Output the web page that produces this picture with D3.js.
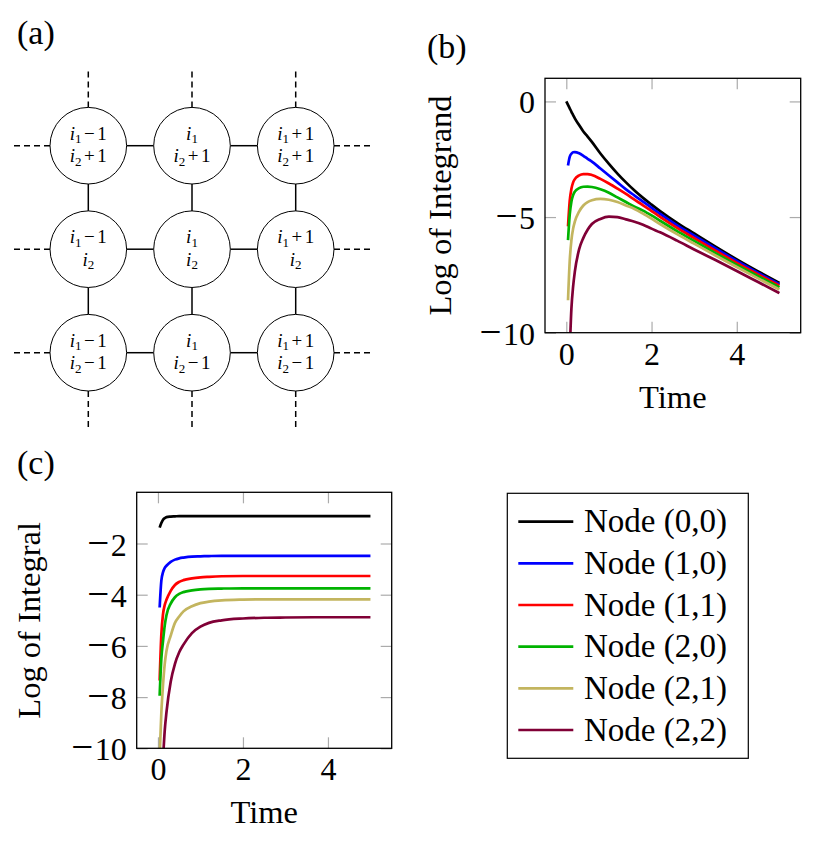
<!DOCTYPE html>
<html><head><meta charset="utf-8">
<script src="https://cdn.jsdelivr.net/npm/d3@7"></script>
<style>
body{margin:0;background:#fff}
svg{display:block}
text{font-family:'Liberation Serif','Times New Roman',serif;fill:#000}
</style>
</head><body>
<svg id="fig" width="830" height="842"></svg>
<script>
// ---------------- data ----------------
const seriesNames = ["Node (0,0)", "Node (1,0)", "Node (1,1)", "Node (2,0)", "Node (2,1)", "Node (2,2)"];
const seriesColors = ["#000000", "#0000ff", "#ff0000", "#00b300", "#c3b55f", "#800036"];

// panel (b): log of integrand
const timeB = [0, 0.04, 0.08, 0.12, 0.16, 0.2, 0.3, 0.4, 0.5, 0.6, 0.8, 1.0, 1.2, 1.4, 1.6, 1.8, 2.0, 2.2, 2.6, 3.0, 3.5, 4.0, 4.5, 5.0];
const integrand00 = [0, -0.15, -0.3, -0.45, -0.59, -0.73, -1.02, -1.3, -1.52, -1.75, -2.25, -2.7, -3.12, -3.5, -3.85, -4.17, -4.46, -4.74, -5.25, -5.71, -6.28, -6.83, -7.35, -7.85];
const integrand10 = [null, -2.77, -2.4, -2.26, -2.2, -2.19, -2.24, -2.35, -2.48, -2.6, -2.9, -3.2, -3.5, -3.8, -4.07, -4.33, -4.6, -4.86, -5.36, -5.8, -6.36, -6.9, -7.42, -7.91];
const integrand11 = [null, -5.4, -4.3, -3.78, -3.5, -3.36, -3.2, -3.14, -3.14, -3.18, -3.35, -3.55, -3.77, -4.0, -4.25, -4.49, -4.74, -4.99, -5.47, -5.91, -6.45, -6.98, -7.48, -7.97];
const integrand20 = [null, -6.0, -4.9, -4.33, -4.05, -3.9, -3.75, -3.69, -3.68, -3.7, -3.8, -3.95, -4.15, -4.35, -4.55, -4.72, -4.93, -5.16, -5.61, -6.03, -6.56, -7.07, -7.56, -8.04];
const integrand21 = [null, -8.6, -6.9, -6.0, -5.5, -5.2, -4.76, -4.5, -4.35, -4.27, -4.21, -4.25, -4.35, -4.5, -4.65, -4.85, -5.07, -5.3, -5.74, -6.15, -6.66, -7.16, -7.65, -8.13];
const integrand22 = [null, null, -10.8, -8.95, -8.0, -7.36, -6.4, -5.9, -5.55, -5.3, -5.08, -4.98, -5.0, -5.1, -5.2, -5.33, -5.5, -5.66, -6.02, -6.4, -6.86, -7.33, -7.81, -8.29];

// panel (c): log of integral
const timeC = [0.04, 0.08, 0.12, 0.16, 0.2, 0.3, 0.4, 0.5, 0.6, 0.8, 1.0, 1.2, 1.5, 2.0, 2.5, 3.0, 4.0, 5.0];
const integral00 = [-1.38, -1.2, -1.07, -1.01, -0.97, -0.95, -0.94, -0.93, -0.93, -0.93, -0.93, -0.93, -0.93, -0.93, -0.93, -0.93, -0.93, -0.93];
const integral10 = [-4.5, -3.45, -3.12, -2.95, -2.87, -2.72, -2.63, -2.58, -2.55, -2.51, -2.5, -2.49, -2.48, -2.48, -2.48, -2.48, -2.48, -2.48];
const integral11 = [-7.35, -5.55, -4.75, -4.4, -4.2, -3.85, -3.62, -3.5, -3.43, -3.36, -3.32, -3.3, -3.28, -3.27, -3.27, -3.27, -3.27, -3.27];
const integral20 = [-7.95, -6.5, -5.8, -5.2, -4.8, -4.35, -4.1, -3.97, -3.9, -3.83, -3.79, -3.77, -3.76, -3.75, -3.75, -3.75, -3.75, -3.75];
const integral21 = [-10.3, -8.6, -7.5, -6.7, -6.2, -5.6, -5.1, -4.85, -4.65, -4.45, -4.33, -4.27, -4.22, -4.19, -4.18, -4.18, -4.18, -4.18];
const integral22 = [null, null, -10.4, -9.3, -8.6, -7.4, -6.7, -6.25, -5.95, -5.5, -5.25, -5.1, -5.0, -4.93, -4.9, -4.89, -4.88, -4.88];

const xTicks = [0, 2, 4];
const yTicksB = [0, -5, -10];
const yTicksC = [-2, -4, -6, -8, -10];

// panel (a): lattice
const gridOffsets = [-1, 0, 1];

// ---------------- drawing ----------------
const svg = d3.select("#fig");
const FS = 32;      // tick labels
const LFS = 32.5;   // axis labels

// write a signed number with a wide (math-style) minus sign
function signedText(sel) {
  sel.each(function (d) {
    const t = d3.select(this).text(null);
    if (d < 0) {
      t.append("tspan").text("\u2212").style("font-size", "1.22em");
      t.append("tspan").text(String(Math.abs(d))).attr("dx", 1.5);
    } else {
      t.append("tspan").text(String(d));
    }
  });
}

// panel labels
svg.append("text").attr("x", 17).attr("y", 44).style("font-size", "34px").text("(a)");
svg.append("text").attr("x", 427).attr("y", 58).style("font-size", "34px").text("(b)");
svg.append("text").attr("x", 17).attr("y", 474).style("font-size", "34px").text("(c)");

// ---- panel (a)
(function () {
  const gx = d3.scalePoint().domain(gridOffsets).range([88.3, 295.7]);
  const gy = d3.scalePoint().domain(gridOffsets).range([352.7, 145.7]);
  const r = 38.3, ext = 39;
  const g = svg.append("g");
  gridOffsets.forEach(j => {
    for (let k = 0; k < 2; k++) {
      g.append("line").attr("x1", gx(gridOffsets[k]) + r).attr("x2", gx(gridOffsets[k + 1]) - r)
        .attr("y1", gy(j)).attr("y2", gy(j)).attr("stroke", "#000").attr("stroke-width", 1.5);
      g.append("line").attr("y1", gy(gridOffsets[k]) - r).attr("y2", gy(gridOffsets[k + 1]) + r)
        .attr("x1", gx(j)).attr("x2", gx(j)).attr("stroke", "#000").attr("stroke-width", 1.5);
    }
  });
  const dash = "6,4";
  const dl = (x1, y1, x2, y2) => g.append("line").attr("x1", x1).attr("y1", y1).attr("x2", x2).attr("y2", y2)
    .attr("stroke", "#000").attr("stroke-width", 1.5).attr("stroke-dasharray", dash);
  gridOffsets.forEach(j => {
    dl(gx(-1) - r, gy(j), gx(-1) - r - ext, gy(j));
    dl(gx(1) + r, gy(j), gx(1) + r + ext, gy(j));
    dl(gx(j), gy(1) - r, gx(j), gy(1) - r - ext);
    dl(gx(j), gy(-1) + r, gx(j), gy(-1) + r + ext);
  });
  function idxLabel(node, sub, off, y) {
    const t = node.append("text").attr("x", 0).attr("y", y).attr("text-anchor", "middle").style("font-size", "19px");
    t.append("tspan").text("i").style("font-style", "italic");
    t.append("tspan").text(sub).attr("dy", 3.5).style("font-size", "13px");
    if (off !== 0) {
      t.append("tspan").text(off < 0 ? "\u2212" : "+").attr("dy", -3.5).attr("dx", 2.5);
      t.append("tspan").text("1").attr("dx", 2.5);
    }
  }
  gridOffsets.forEach(a => {
    gridOffsets.forEach(b => {
      const node = g.append("g").attr("transform", `translate(${gx(a)},${gy(b)})`);
      node.append("circle").attr("r", r).attr("fill", "#fff").attr("stroke", "#000").attr("stroke-width", 1);
      idxLabel(node, "1", a, -6.2);
      idxLabel(node, "2", b, 16.4);
    });
  });
})();

// ---- generic plot panel
function panel(box, yDomain, yTicks, times, seriesList, ylabel, ylabelX) {
  const x = d3.scaleLinear().domain([-0.5, 5.5]).range([box.l, box.r]);
  const y = d3.scaleLinear().domain(yDomain).range([box.b, box.t]);
  const g = svg.append("g");
  const id = "clip" + Math.round(box.l);
  svg.append("defs").append("clipPath").attr("id", id).append("rect")
    .attr("x", box.l).attr("y", box.t).attr("width", box.r - box.l).attr("height", box.b - box.t);

  const tickStyle = sel => {
    sel.select(".domain").remove();
    sel.selectAll(".tick line").attr("stroke", "#ababab").attr("stroke-width", 1.2);
    sel.attr("font-family", null).attr("font-size", null);
  };
  const ax = g.append("g").attr("transform", `translate(0,${box.b})`)
    .call(d3.axisBottom(x).tickValues(xTicks).tickSize(-11));
  tickStyle(ax);
  ax.selectAll(".tick text").attr("y", 32).attr("dy", null).style("font-size", FS + "px").call(signedText);
  const axT = g.append("g").attr("transform", `translate(0,${box.t})`)
    .call(d3.axisTop(x).tickValues(xTicks).tickSize(-11).tickFormat(""));
  tickStyle(axT);
  const ay = g.append("g").attr("transform", `translate(${box.l},0)`)
    .call(d3.axisLeft(y).tickValues(yTicks).tickSize(-11));
  tickStyle(ay);
  ay.selectAll(".tick text").attr("x", -10).attr("dy", null).attr("y", 11.5).style("font-size", FS + "px").call(signedText);
  const ayR = g.append("g").attr("transform", `translate(${box.r},0)`)
    .call(d3.axisRight(y).tickValues(yTicks).tickSize(-11).tickFormat(""));
  tickStyle(ayR);

  const cg = g.append("g").attr("clip-path", `url(#${id})`);
  seriesList.forEach((vals, i) => {
    const pts = times.map((t, k) => [t, vals[k]]).filter(p => p[1] !== null);
    cg.append("path").attr("d", d3.line().x(p => x(p[0])).y(p => y(p[1])).curve(d3.curveMonotoneX)(pts))
      .attr("fill", "none").attr("stroke", seriesColors[i]).attr("stroke-width", 2.7)
      .attr("stroke-linejoin", "round");
  });

  g.append("rect").attr("x", box.l).attr("y", box.t).attr("width", box.r - box.l).attr("height", box.b - box.t)
    .attr("fill", "none").attr("stroke", "#000").attr("stroke-width", 1.3);

  g.append("text").attr("x", (box.l + box.r) / 2).attr("y", box.b + 75).attr("text-anchor", "middle")
    .style("font-size", LFS + "px").text("Time");
  g.append("text").attr("transform", `translate(${ylabelX},${(box.t + box.b) / 2}) rotate(-90)`)
    .attr("text-anchor", "middle").style("font-size", LFS + "px").text(ylabel);
}

panel({l: 545, r: 800.7, t: 78.3, b: 332.7}, [-10, 1], yTicksB, timeB,
  [integrand00, integrand10, integrand11, integrand20, integrand21, integrand22], "Log of Integrand", 451);
panel({l: 136.7, r: 391.7, t: 492.3, b: 748.3}, [-10, 0], yTicksC, timeC,
  [integral00, integral10, integral11, integral20, integral21, integral22], "Log of Integral", 40);

// ---- legend
(function () {
  const lg = svg.append("g");
  lg.append("rect").attr("x", 507.3).attr("y", 493.3).attr("width", 241).attr("height", 265)
    .attr("fill", "#fff").attr("stroke", "#000").attr("stroke-width", 1.2);
  const ry = d3.scalePoint().domain(seriesNames).range([521.7, 730]);
  seriesNames.forEach((n, i) => {
    lg.append("line").attr("x1", 518.3).attr("x2", 573.3).attr("y1", ry(n)).attr("y2", ry(n))
      .attr("stroke", seriesColors[i]).attr("stroke-width", 2.7);
    lg.append("text").attr("x", 584).attr("y", ry(n) + 10.5).style("font-size", "33px").text(n);
  });
})();
</script>
</body></html>
